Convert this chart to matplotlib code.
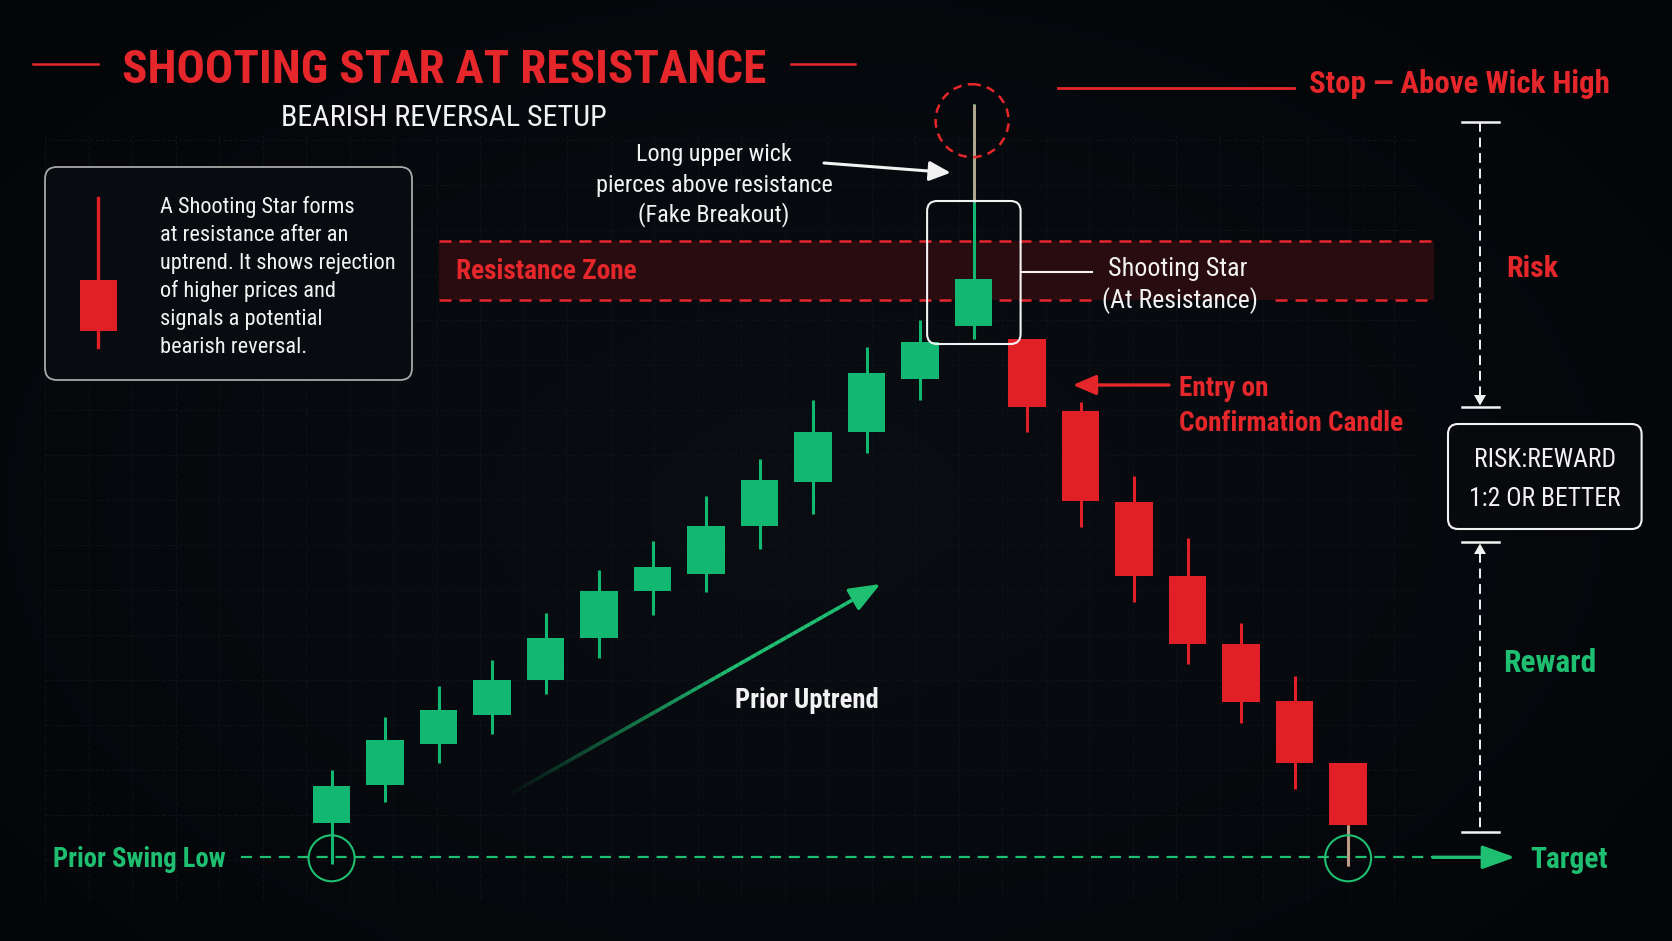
import numpy as np
import matplotlib
matplotlib.use("Agg")
import matplotlib.pyplot as plt
from matplotlib import font_manager as fm
from matplotlib.patches import FancyBboxPatch, Circle, Polygon
from matplotlib.collections import LineCollection
from matplotlib.transforms import blended_transform_factory

# ---------------- data ----------------
SESSION = list(range(20))
OPEN  = [103.2, 106.8, 110.6, 113.3, 116.6, 120.6, 125.0, 126.6, 131.1, 135.2,
         139.9, 144.9, 149.8, 148.6, 141.9, 133.3, 126.4, 120.0, 114.7, 108.8]
CLOSE = [106.7, 111.0, 113.8, 116.6, 120.6, 125.0, 127.2, 131.1, 135.4, 139.9,
         145.4, 148.3, 154.2, 142.2, 133.4, 126.4, 120.0, 114.6, 108.8, 103.0]
HIGH  = [108.2, 113.2, 116.1, 118.5, 122.9, 126.9, 129.7, 133.9, 137.4, 142.9,
         147.9, 150.4, 170.6, 148.6, 142.7, 135.8, 129.9, 122.0, 117.0, 108.8]
LOW   = [99.4, 105.2, 108.8, 111.6, 115.3, 118.7, 122.7, 124.9, 128.9, 132.2,
         137.9, 142.9, 148.6, 139.9, 131.0, 123.9, 118.1, 112.6, 106.4, 99.2]
STAR_IDX = 12
ENTRY_IDX = 13
RESIST_TOP = 157.8
RESIST_BOT = 152.3
SWING_LOW = 100.0
WICK_FADE_FROM = 161.5

TITLE = "SHOOTING STAR AT RESISTANCE"
SUBTITLE = "BEARISH REVERSAL SETUP"
INFO_LINES = ["A Shooting Star forms", "at resistance after an",
              "uptrend. It shows rejection", "of higher prices and",
              "signals a potential", "bearish reversal."]
WICK_LINES = ["Long upper wick", "pierces above resistance", "(Fake Breakout)"]
STAR_LINES = ["Shooting Star", "(At Resistance)"]
ENTRY_LINES = ["Entry on", "Confirmation Candle"]
RR_LINES = ["RISK:REWARD", "1:2 OR BETTER"]

# ---------------- style ----------------
BG = "#05080c"
RED = "#e5272c"
CANDLE_RED = "#e11f26"
GREEN = "#12b872"
GREEN_TXT = "#1fbf72"
WHITE = "#f2f2f2"
TAN = "#b9a68f"
ZONE = "#2c0d10"

avail = {f.name for f in fm.fontManager.ttflist}
def pick(*names):
    for n in names:
        if n in avail:
            return n
    return "DejaVu Sans"
COND = pick("Roboto Condensed", "Liberation Sans Narrow", "Open Sans Condensed",
            "Roboto", "Lato", "DejaVu Sans")

W, H = 1672, 941
fig = plt.figure(figsize=(W / 100, H / 100), dpi=100, facecolor=BG)
ax = fig.add_axes([0, 0, 1, 1])
ov = fig.add_axes([0, 0, 1, 1])
X0, X1 = -6.198, 25.054
Y0, Y1 = 92.15, 180.40
ov.set_xlim(0, W); ov.set_ylim(H, 0); ov.axis("off"); ov.patch.set_alpha(0)

# subtle vignette
yy, xx = np.mgrid[0:94, 0:167]
r = np.sqrt(((xx - 80) / 110.0) ** 2 + ((yy - 50) / 70.0) ** 2)
t = np.clip(r, 0, 1)[..., None]
c_in = np.array([0x0a, 0x0e, 0x13]) / 255.0
c_out = np.array([0x03, 0x05, 0x08]) / 255.0
img = c_in * (1 - t) + c_out * t
ax.imshow(img, extent=(X0, X1, Y0, Y1), aspect="auto", zorder=-10,
          interpolation="bilinear", origin="upper")
ax.set_xlim(X0, X1); ax.set_ylim(Y0, Y1); ax.axis("off")

px = ov.transData
bl = blended_transform_factory(ov.transData, ax.transData)

def to_px(x, y):
    return ov.transData.inverted().transform(ax.transData.transform((x, y)))

# faint grid
gx = np.arange(45, 1425, 43.5)
gy = np.arange(140, 905, 45)
ax.vlines(gx, 135, 900, transform=px, color="#0d131a", lw=0.8, zorder=-5,
          linestyles=(0, (3, 2)))
ax.hlines(gy, 45, 1420, transform=px, color="#0d131a", lw=0.8, zorder=-5,
          linestyles=(0, (3, 2)))

# resistance zone
ax.fill_between([438.7, 1434], RESIST_BOT, RESIST_TOP, transform=bl,
                color=ZONE, alpha=0.95, zorder=1, lw=0)
ax.plot([438.7, 1434], [RESIST_TOP, RESIST_TOP], transform=bl, color=RED, lw=1.8,
        dashes=(4.8, 3.2), zorder=2)
for xa, xb in ((438.7, 1092), (1275, 1434)):
    ax.plot([xa, xb], [RESIST_BOT, RESIST_BOT], transform=bl, color=RED, lw=1.8,
            dashes=(4.8, 3.2), zorder=2)

# swing low line
ax.plot([241, 1434], [SWING_LOW, SWING_LOW], transform=bl, color=GREEN_TXT,
        lw=1.6, dashes=(5, 3.5), zorder=2)

# candles
o = np.array(OPEN); c = np.array(CLOSE)
cols = [GREEN if cc >= oo else CANDLE_RED for oo, cc in zip(o, c)]
ax.vlines(SESSION, LOW, HIGH, colors=cols, lw=2.2, zorder=3)
ax.bar(SESSION, np.abs(c - o), bottom=np.minimum(o, c), width=0.7,
       color=cols, zorder=4, lw=0)
ax.vlines([STAR_IDX], [WICK_FADE_FROM], [HIGH[STAR_IDX]], colors=TAN, lw=2.0, zorder=3.5)
ax.vlines([SESSION[-1]], [LOW[-1]], [CLOSE[-1]], colors=TAN, lw=2.0, zorder=3.5)

R = fig.canvas.get_renderer()
def size_for(s, w, weight="normal"):
    tt = ov.text(0, 0, s, fontsize=20, fontweight=weight, family=COND)
    bw = tt.get_window_extent(R).width
    tt.remove()
    return 20.0 * w / bw

def txt(x, y, s, size, color, weight="normal", ha="left", **kw):
    return ov.text(x, y, s, fontsize=size, color=color, fontweight=weight,
                   family=COND, ha=ha, va="baseline", **kw)

def arrow(p0, p1, color, lw, hl, hw):
    ov.annotate("", xy=p1, xytext=p0, xycoords="data",
                arrowprops=dict(arrowstyle=f"-|>,head_length={hl},head_width={hw}",
                                color=color, lw=lw, shrinkA=0, shrinkB=0,
                                mutation_scale=10))

# title
txt(444, 83, TITLE, size_for(TITLE, 644, "bold"), RED, "bold", ha="center")
ov.plot([33, 98], [64, 64], color=RED, lw=1.8)
ov.plot([791, 855], [64, 64], color=RED, lw=1.8)
txt(444, 126, SUBTITLE, size_for(SUBTITLE, 326), WHITE, ha="center")

# info box
ov.add_patch(FancyBboxPatch((45, 167), 367, 213, boxstyle="round,pad=0,rounding_size=12",
                            fc="#080b0f", ec="#a8a8a8", lw=1.3, zorder=5))
ov.plot([98.3, 98.3], [198, 347], color=CANDLE_RED, lw=2.4, zorder=6)
ov.add_patch(FancyBboxPatch((80, 280), 36.7, 51, boxstyle="square,pad=0",
                            fc=CANDLE_RED, ec="none", zorder=7))
fs_info = size_for(INFO_LINES[2], 235)
for k, line in enumerate(INFO_LINES):
    txt(160, 212.7 + k * 28.06, line, fs_info, WHITE, zorder=7)

# long upper wick annotation
fs_w = size_for(WICK_LINES[1], 236)
for line, yb in zip(WICK_LINES, (161, 191.5, 221.5)):
    txt(714, yb, line, fs_w, WHITE, ha="center")
arrow((824, 163), (950.7, 172.7), WHITE, 2.2, 1.3, 0.6)

star_x, _ = to_px(STAR_IDX, 0)
ov.add_patch(Circle((star_x - 1.5, 120.7), 36.5, fill=False, ec=RED, lw=1.8,
                    ls=(0, (3.5, 2.5)), zorder=6))
ov.add_patch(FancyBboxPatch((star_x - 46.5, 201), 93.5, 143,
                            boxstyle="round,pad=0,rounding_size=10",
                            fc="none", ec=WHITE, lw=1.5, zorder=6))

# resistance label
txt(456.5, 279.3, "Resistance Zone", size_for("Resistance Zone", 180, "bold"), RED, "bold")

# shooting star label
ov.plot([star_x + 47, 1092], [272.3, 272.3], color=WHITE, lw=1.5)
txt(1107.7, 275.7, STAR_LINES[0], size_for(STAR_LINES[0], 139), WHITE)
txt(1101.7, 308, STAR_LINES[1], size_for(STAR_LINES[1], 156), WHITE)

# stop
ov.plot([1058, 1293.6], [87.7, 87.7], color=RED, lw=2.0)
s_stop = "Stop \u2014 Above Wick High"
txt(1308.6, 93.3, s_stop, size_for(s_stop, 300, "bold"), RED, "bold")

# risk / reward bar
bx = 1480
ov.plot([1462, 1499], [121.7, 121.7], color=WHITE, lw=1.8)
ov.plot([bx, bx], [121.7, 396], color=WHITE, lw=1.4, ls=(0, (5, 3)))
ov.add_patch(Polygon([[bx - 6, 395], [bx + 6, 395], [bx, 405.5]], closed=True, fc=WHITE, ec="none"))
ov.plot([1462, 1499], [406.7, 406.7], color=WHITE, lw=1.8)
ov.plot([1462, 1499], [542, 542], color=WHITE, lw=1.8)
ov.add_patch(Polygon([[bx - 6, 554], [bx + 6, 554], [bx, 543.5]], closed=True, fc=WHITE, ec="none"))
ov.plot([bx, bx], [553, 832], color=WHITE, lw=1.4, ls=(0, (5, 3)))
ov.plot([1462, 1499], [832, 832], color=WHITE, lw=1.8)
txt(1506.7, 276.7, "Risk", size_for("Risk", 52, "bold"), RED, "bold")
txt(1503, 671.7, "Reward", size_for("Reward", 93, "bold"), GREEN_TXT, "bold")

ov.add_patch(FancyBboxPatch((1448, 424), 193.6, 105, boxstyle="round,pad=0,rounding_size=10",
                            fc="#07090c", ec=WHITE, lw=1.5, zorder=5))
fs_rr = size_for(RR_LINES[1], 152)
txt(1545, 467.3, RR_LINES[0], fs_rr, WHITE, ha="center", zorder=6)
txt(1545, 506, RR_LINES[1], fs_rr, WHITE, ha="center", zorder=6)

# entry
ex, ey = to_px(ENTRY_IDX + 0.35, 0)
arrow((1169, 385), (ex + 27, 385), RED, 2.4, 1.4, 0.6)
fs_e = size_for(ENTRY_LINES[1], 224, "bold")
txt(1179, 395.7, ENTRY_LINES[0], fs_e, RED, "bold")
txt(1179, 431, ENTRY_LINES[1], fs_e, RED, "bold")

# swing low / target
_, sw_y = to_px(0, SWING_LOW)
for idx in (SESSION[0], SESSION[-1]):
    cx, _ = to_px(idx, 0)
    ov.add_patch(Circle((cx, sw_y + 1), 23, fill=False, ec=GREEN_TXT, lw=1.5, zorder=6))
arrow((1433, sw_y), (1515, sw_y), GREEN_TXT, 2.4, 2.0, 0.72)
txt(1530, 868, "Target", size_for("Target", 77, "bold"), GREEN_TXT, "bold")
txt(52.7, 867, "Prior Swing Low", size_for("Prior Swing Low", 172, "bold"), GREEN_TXT, "bold")

# prior uptrend arrow with fading tail
p0 = np.array([512, 793.0]); p1 = np.array([870, 590.0])
n = 60
pts = p0 + (p1 - p0) * np.linspace(0, 1, n + 1)[:, None]
segs = np.stack([pts[:-1], pts[1:]], axis=1)
al = np.clip(np.linspace(0.05, 1.6, n), 0, 1)
gc = np.array(matplotlib.colors.to_rgb(GREEN_TXT))
lc = LineCollection(segs, colors=[(*gc, a) for a in al], lw=2.6, capstyle="butt")
ov.add_collection(lc)
arrow((860, 595.6), (880.4, 584), GREEN_TXT, 2.4, 1.9, 0.75)
txt(735, 708, "Prior Uptrend", size_for("Prior Uptrend", 143, "semibold"), WHITE, "semibold")

fig.savefig("out.png", dpi=100, facecolor=BG)
